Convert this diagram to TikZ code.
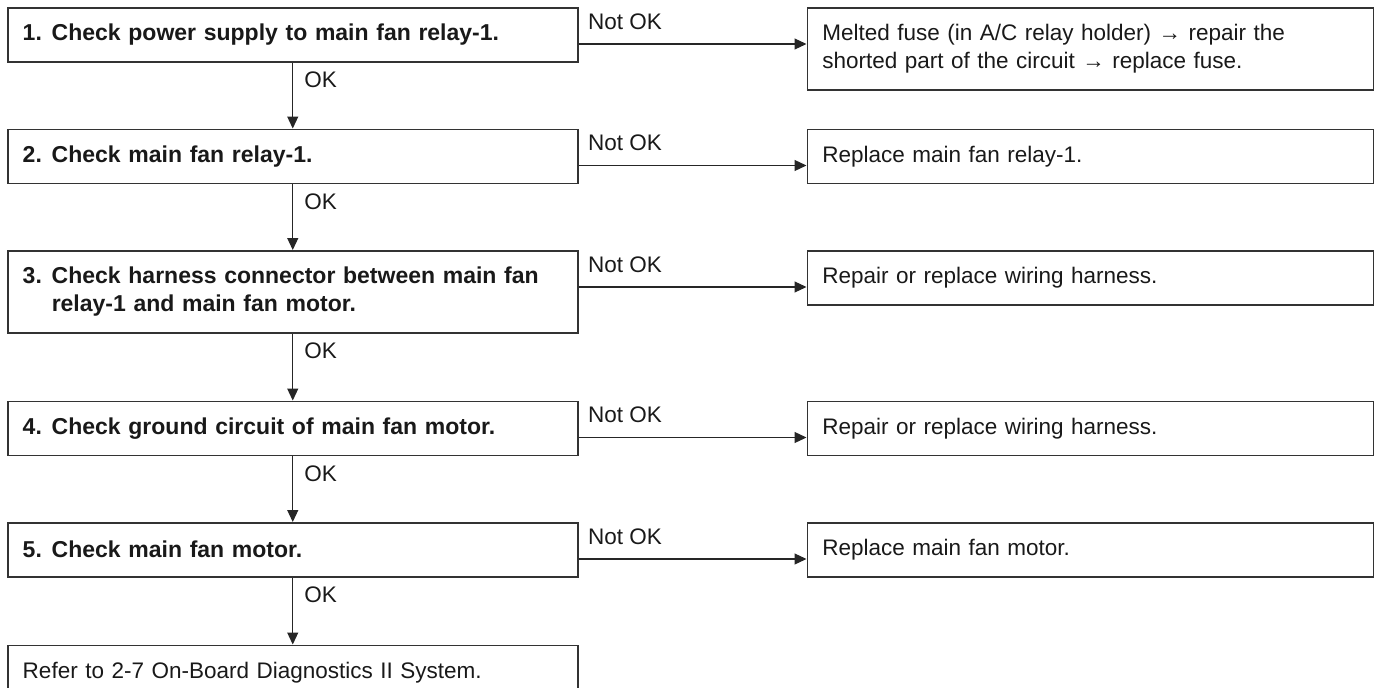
\documentclass[tikz,border=0pt]{standalone}
\usepackage{fontspec}
\setmainfont{Liberation Sans}
\usetikzlibrary{arrows.meta, positioning}
\tikzstyle{check} = [rectangle, draw=black!80, line width=1.5pt, text width=540pt,
    minimum height=54pt, inner xsep=15pt, align=left, text=black!90,
    font=\fontsize{23}{28}\selectfont\bfseries]
\tikzstyle{fix}   = [rectangle, draw=black!80, line width=1.5pt, text width=536pt,
    minimum height=54pt, inner xsep=15pt, align=left, text=black!90,
    font=\fontsize{22.5}{28}\selectfont]
\tikzstyle{arrow} = [line width=1.2pt, draw=black!85, -{Triangle[length=12pt, width=11pt]}]
\tikzstyle{lbl}   = [inner sep=0pt, text=black!90, font=\fontsize{22.5}{26}\selectfont]
\newcommand{\num}[1]{\makebox[29pt][l]{#1}}

\begin{document}
\begin{tikzpicture}[x=1pt, y=-1pt]
    \useasboundingbox (0,0) rectangle (1377,688);
    \clip (0,0) rectangle (1377,688);
    \node (b1) [check, anchor=north west] at (7,7)       {\num{1.}Check power supply to main fan relay-1.};
    \node (b2) [check, below=66pt of b1]                  {\num{2.}Check main fan relay-1.};
    \node (b3) [check, below=66pt of b2, minimum height=82pt]
        {\num{3.}Check harness connector between main fan\\\hspace*{29pt}relay-1 and main fan motor.};
    \node (b4) [check, below=67pt of b3]                  {\num{4.}Check ground circuit of main fan motor.};
    \node (b5) [check, below=66pt of b4]                  {\num{5.}Check main fan motor.};
    \node (end) [fix, text width=540pt, below=67pt of b5] {Refer to 2-7 On-Board Diagnostics II System.};

    \node (r1) [fix, right=228pt of b1.north east, anchor=north west, minimum height=82pt]
        {Melted fuse (in A/C relay holder) → repair the\\shorted part of the circuit → replace fuse.};
    \node (r2) [fix, right=228pt of b2.north east, anchor=north west] {Replace main fan relay-1.};
    \node (r3) [fix, right=228pt of b3.north east, anchor=north west] {Repair or replace wiring harness.};
    \node (r4) [fix, right=228pt of b4.north east, anchor=north west] {Repair or replace wiring harness.};
    \node (r5) [fix, right=228pt of b5.north east, anchor=north west] {Replace main fan motor.};

    \draw [arrow] (b1) -- node[lbl, pos=0, anchor=base west, xshift=11pt, yshift=-25pt]{OK} (b2);
    \draw [arrow] (b2) -- node[lbl, pos=0, anchor=base west, xshift=11pt, yshift=-25pt]{OK} (b3);
    \draw [arrow] (b3) -- node[lbl, pos=0, anchor=base west, xshift=11pt, yshift=-25pt]{OK} (b4);
    \draw [arrow] (b4) -- node[lbl, pos=0, anchor=base west, xshift=11pt, yshift=-25pt]{OK} (b5);
    \draw [arrow] (b5) -- node[lbl, pos=0, anchor=base west, xshift=11pt, yshift=-25pt]{OK} (end);

    \draw [arrow] ([yshift=-37pt]b1.north east) -- node[lbl, pos=0, anchor=base west, xshift=9pt, yshift=15pt]{Not OK} ([yshift=-37pt]r1.north west);
    \draw [arrow] ([yshift=-37pt]b2.north east) -- node[lbl, pos=0, anchor=base west, xshift=9pt, yshift=15pt]{Not OK} ([yshift=-37pt]r2.north west);
    \draw [arrow] ([yshift=-37pt]b3.north east) -- node[lbl, pos=0, anchor=base west, xshift=9pt, yshift=15pt]{Not OK} ([yshift=-37pt]r3.north west);
    \draw [arrow] ([yshift=-37pt]b4.north east) -- node[lbl, pos=0, anchor=base west, xshift=9pt, yshift=15pt]{Not OK} ([yshift=-37pt]r4.north west);
    \draw [arrow] ([yshift=-37pt]b5.north east) -- node[lbl, pos=0, anchor=base west, xshift=9pt, yshift=15pt]{Not OK} ([yshift=-37pt]r5.north west);
\end{tikzpicture}
\end{document}
